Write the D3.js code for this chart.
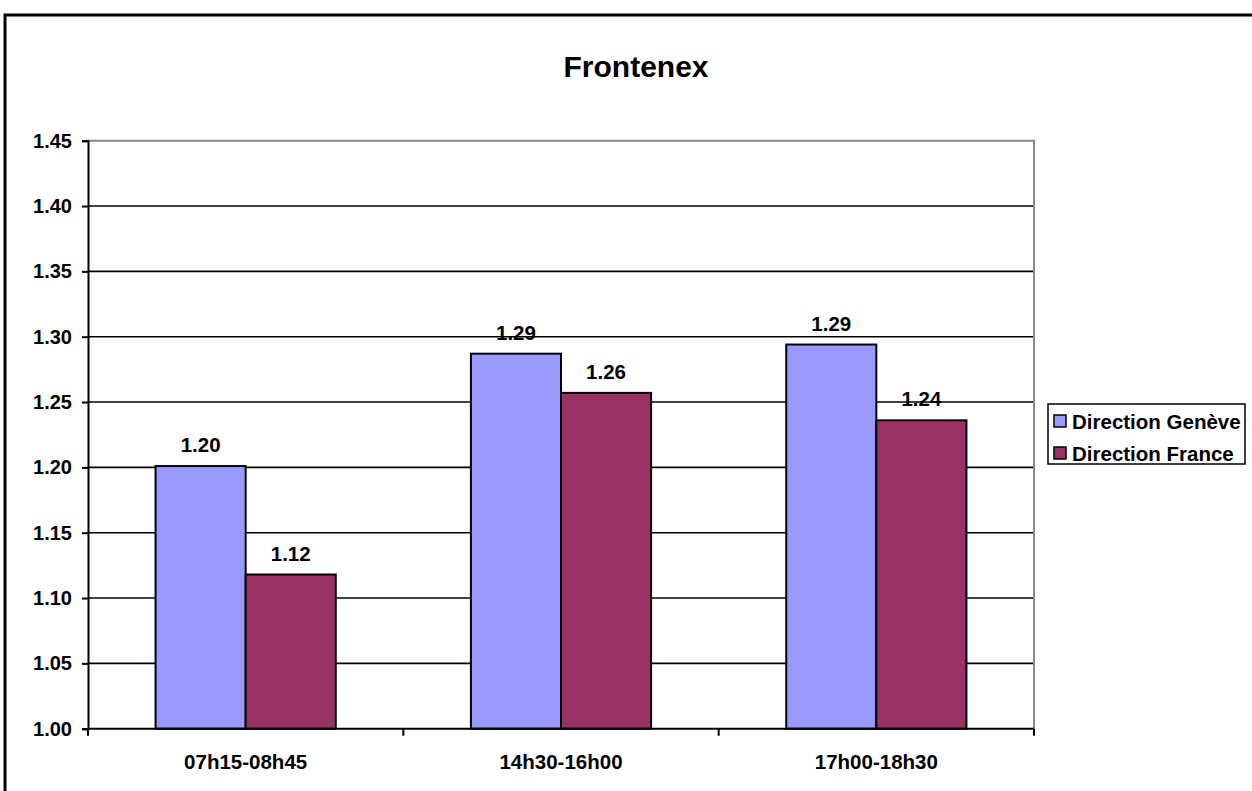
<!DOCTYPE html>
<html>
<head>
<meta charset="utf-8">
<script src="https://cdn.jsdelivr.net/npm/d3@7"></script>
<style>
  html, body { margin: 0; padding: 0; background: #fff; }
  svg { display: block; }
  text { font-family: "Liberation Sans", Arial, sans-serif; font-weight: bold; fill: #000; }
</style>
</head>
<body>
<svg id="chart" width="1252" height="791"></svg>
<script>
const title = "Frontenex";
const categories = ["07h15-08h45", "14h30-16h00", "17h00-18h30"];
const seriesNames = ["Direction Genève", "Direction France"];
const geneve = [1.201, 1.287, 1.294];
const france = [1.118, 1.257, 1.236];
const yTicks = [1.00, 1.05, 1.10, 1.15, 1.20, 1.25, 1.30, 1.35, 1.40, 1.45];
const colors = ["#9999FF", "#993366"];

const svg = d3.select("#chart");

// outer chart border (extends past the window on right/bottom)
svg.append("rect")
  .attr("x", 5).attr("y", 15).attr("width", 1300).attr("height", 900)
  .attr("fill", "none").attr("stroke", "#000").attr("stroke-width", 3);

const plot = { left: 88, right: 1034, top: 140.7, bottom: 728.7 };

const y = d3.scaleLinear().domain([1.00, 1.45]).range([plot.bottom, plot.top]);
const x0 = d3.scaleBand().domain(categories).range([plot.left, plot.right]).padding(0);
const groupW = x0.bandwidth() * (2 / 3.5);
const x1 = d3.scaleBand().domain(seriesNames).range([0, groupW]).padding(0);
const groupOffset = (x0.bandwidth() - groupW) / 2;

// title
svg.append("text")
  .attr("x", 636).attr("y", 77)
  .attr("text-anchor", "middle")
  .style("font-size", "30px")
  .text(title);

// gridlines
svg.append("g").selectAll("line")
  .data(yTicks.filter(t => t > 1.0 && t < 1.45))
  .join("line")
  .attr("x1", plot.left).attr("x2", plot.right)
  .attr("y1", d => y(d)).attr("y2", d => y(d))
  .attr("stroke", "#000").attr("stroke-width", 1.6);

// plot area border (gray top & right)
svg.append("path")
  .attr("d", `M${plot.left},${y(1.45)}H${plot.right}V${plot.bottom}`)
  .attr("fill", "none").attr("stroke", "#888").attr("stroke-width", 2);

// bars
const data = categories.map((c, i) => ({ cat: c, vals: [geneve[i], france[i]] }));
const groups = svg.append("g").selectAll("g")
  .data(data).join("g")
  .attr("transform", d => `translate(${x0(d.cat) + groupOffset},0)`);

groups.selectAll("rect")
  .data(d => d.vals.map((v, j) => ({ s: seriesNames[j], v, j })))
  .join("rect")
  .attr("x", d => x1(d.s))
  .attr("width", x1.bandwidth())
  .attr("y", d => y(d.v))
  .attr("height", d => y(1.0) - y(d.v))
  .attr("fill", d => colors[d.j])
  .attr("stroke", "#000").attr("stroke-width", 2);

groups.selectAll("text")
  .data(d => d.vals.map((v, j) => ({ s: seriesNames[j], v, j })))
  .join("text")
  .attr("x", d => x1(d.s) + x1.bandwidth() / 2)
  .attr("y", d => y(d.v) - 14)
  .attr("text-anchor", "middle")
  .style("font-size", "20.5px")
  .text(d => d.v.toFixed(2));

// y axis
const yAxis = d3.axisLeft(y).tickValues(yTicks).tickFormat(d3.format(".2f")).tickSize(6).tickPadding(10);
const yg = svg.append("g").attr("transform", `translate(${plot.left},0)`).call(yAxis);
yg.select(".domain").attr("stroke", "#000").attr("stroke-width", 2);
yg.selectAll(".tick line").attr("stroke", "#000").attr("stroke-width", 2);
yg.selectAll(".tick text").style("font-size", "20px").attr("font-family", null).attr("fill", "#000");

// x axis
const xAxis = d3.axisBottom(x0).tickSize(0).tickPadding(0).tickFormat(() => "");
const xg = svg.append("g").attr("transform", `translate(0,${plot.bottom})`).call(xAxis);
xg.select(".domain").attr("stroke", "#000").attr("stroke-width", 2).attr("d", `M${plot.left},0H${plot.right}`);
xg.selectAll(".tick text").remove();
xg.selectAll(".tick line").remove();
const boundaries = categories.map(c => x0(c)).concat([x0(categories[categories.length - 1]) + x0.bandwidth()]);
xg.selectAll("line.bound").data(boundaries).join("line")
  .attr("class", "bound")
  .attr("x1", d => d).attr("x2", d => d)
  .attr("y1", 0).attr("y2", 7)
  .attr("stroke", "#000").attr("stroke-width", 2);
xg.selectAll("text.cat").data(categories).join("text")
  .attr("class", "cat")
  .attr("x", d => x0(d) + x0.bandwidth() / 2)
  .attr("y", 40)
  .attr("text-anchor", "middle")
  .style("font-size", "20.5px")
  .text(d => d);

// legend
const lg = svg.append("g");
lg.append("rect")
  .attr("x", 1048).attr("y", 404).attr("width", 197).attr("height", 60)
  .attr("fill", "#fff").attr("stroke", "#000").attr("stroke-width", 1.5);
const rowY = [421.5, 453.5];
seriesNames.forEach((s, i) => {
  lg.append("rect")
    .attr("x", 1054).attr("y", rowY[i] - 6.5).attr("width", 12).attr("height", 12)
    .attr("fill", colors[i]).attr("stroke", "#000").attr("stroke-width", 1.5);
  lg.append("text")
    .attr("x", 1072).attr("y", rowY[i] + 7)
    .style("font-size", "20.5px")
    .text(s);
});
</script>
</body>
</html>
